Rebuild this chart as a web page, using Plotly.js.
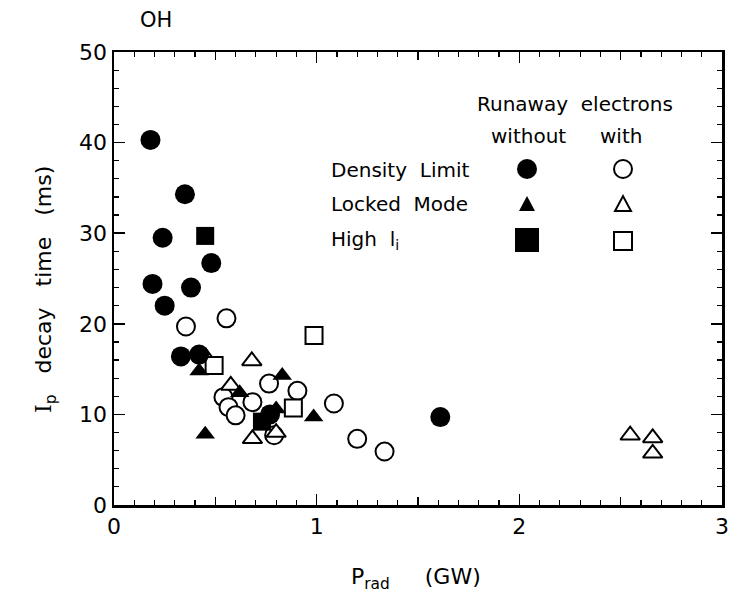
<!DOCTYPE html>
<html>
<head>
<meta charset="utf-8">
<script src="https://cdn.plot.ly/plotly-3.0.1.min.js"></script>
<style>html,body{margin:0;padding:0;background:#fff;}#chart{width:735px;height:610px;}</style>
</head>
<body>
<div id="chart"></div>
<script>
// Density limit, without runaway electrons (filled circles)
const dlWithoutX = [0.18, 0.35, 0.24, 0.48, 0.19, 0.38, 0.25, 0.33, 0.42, 1.61, 0.77];
const dlWithoutY = [40.3, 34.3, 29.5, 26.7, 24.4, 24.0, 22.0, 16.4, 16.6, 9.7, 10.0];
// Locked mode, without (filled triangles)
const lmWithoutX = [0.42, 0.45, 0.62, 0.83, 0.985, 0.80];
const lmWithoutY = [14.8, 7.8, 12.4, 14.3, 9.7, 10.6];
// High li, without (filled squares)
const hlWithoutX = [0.45, 0.73];
const hlWithoutY = [29.7, 9.2];
// Density limit, with runaway electrons (open circles)
const dlWithX = [0.355, 0.555, 0.54, 0.565, 0.60, 0.683, 0.765, 0.905, 1.085, 0.79, 1.20, 1.335];
const dlWithY = [19.7, 20.6, 11.9, 10.8, 9.9, 11.35, 13.4, 12.6, 11.2, 7.7, 7.3, 5.9];
// Locked mode, with (open triangles)
const lmWithX = [0.453, 0.68, 0.576, 0.683, 0.80, 2.547, 2.658, 2.658];
const lmWithY = [16.3, 15.9, 13.2, 7.3, 8.0, 7.7, 7.4, 5.7];
// High li, with (open squares)
const hlWithX = [0.494, 0.987, 0.885];
const hlWithY = [15.4, 18.7, 10.7];

const xTicks = [0, 1, 2, 3];
const yTicks = [0, 10, 20, 30, 40, 50];

const FONT = 'DejaVu Sans, sans-serif';

function filled(x, y, sym, size) {
  return {x: x, y: y, type: 'scatter', mode: 'markers', showlegend: false, hoverinfo: 'skip',
    marker: {symbol: sym, size: size, color: '#000', line: {width: 0}}};
}
function open(x, y, sym, size) {
  return {x: x, y: y, type: 'scatter', mode: 'markers', showlegend: false, hoverinfo: 'skip',
    marker: {symbol: sym, size: size, color: '#fff', line: {width: 2, color: '#000'}}};
}

const traces = [
  open(dlWithX, dlWithY, 'circle', 18),
  open(lmWithX, lmWithY, 'triangle-up', 17),
  open(hlWithX, hlWithY, 'square', 17),
  filled(dlWithoutX, dlWithoutY, 'circle', 20),
  filled(lmWithoutX, lmWithoutY, 'triangle-up', 17),
  filled(hlWithoutX, hlWithoutY, 'square', 18),
  // invisible trace on overlay axes to show the 0.5-step medium ticks
  {x: [0], y: [0], xaxis: 'x2', yaxis: 'y2', type: 'scatter', mode: 'markers',
   marker: {opacity: 0}, showlegend: false, hoverinfo: 'skip'}
];

const PL = 114, PR = 722, PT = 52, PB = 505;
function px(v) { return (v - PL) / (PR - PL); }
function py(v) { return (PB - v) / (PB - PT); }

const legendShapes = [];
function circ(cx, cy, r, fill) {
  legendShapes.push({type: 'circle', xref: 'paper', yref: 'paper', xsizemode: 'pixel', ysizemode: 'pixel',
    xanchor: px(cx), yanchor: py(cy), x0: -r, x1: r, y0: -r, y1: r,
    fillcolor: fill ? '#000' : '#fff', line: {color: '#000', width: fill ? 0 : 2}});
}
function sq(cx, cy, h, fill) {
  legendShapes.push({type: 'rect', xref: 'paper', yref: 'paper', xsizemode: 'pixel', ysizemode: 'pixel',
    xanchor: px(cx), yanchor: py(cy), x0: -h, x1: h, y0: -h, y1: h,
    fillcolor: fill ? '#000' : '#fff', line: {color: '#000', width: fill ? 0 : 2}});
}
function tri(cx, cy, fill) {
  legendShapes.push({type: 'path', xref: 'paper', yref: 'paper', xsizemode: 'pixel', ysizemode: 'pixel',
    xanchor: px(cx), yanchor: py(cy), path: 'M-8,-7 L8,-7 L0,8 Z',
    fillcolor: fill ? '#000' : '#fff', line: {color: '#000', width: fill ? 0 : 2}});
}
circ(527, 169, 10, true);
circ(623, 169, 9, false);
tri(527, 204, true);
tri(623, 204, false);
sq(527, 240, 12, true);
sq(623, 241, 9, false);

function ann(text, x, y, anchor, size) {
  return {text: text, xref: 'paper', yref: 'paper', x: px(x), y: py(y), xanchor: anchor, yanchor: 'middle',
    showarrow: false, font: {family: FONT, size: size || 20, color: '#000'}};
}

const annotations = [
  ann('OH', 138, 20, 'left', 21),
  ann('Runaway\u00A0\u00A0electrons', 575, 104, 'center'),
  ann('without', 528, 136, 'center'),
  ann('with', 621, 136, 'center'),
  ann('Density\u00A0\u00A0Limit', 329, 170, 'left'),
  ann('Locked\u00A0\u00A0Mode', 329, 204, 'left'),
  ann('High\u00A0\u00A0l<sub>i</sub>', 329, 240, 'left'),
  ann('P<sub>rad</sub>\u00A0\u00A0\u00A0\u00A0\u00A0(GW)', 416, 578, 'center', 22),
  {text: '<span style="font-family:DejaVu Serif">I</span><sub>p</sub>\u00A0\u00A0\u00A0decay\u00A0\u00A0\u00A0time\u00A0\u00A0\u00A0(ms)',
   xref: 'paper', yref: 'paper', x: px(45), y: py(290), xanchor: 'center', yanchor: 'middle', textangle: -90,
   showarrow: false, font: {family: FONT, size: 22, color: '#000'}}
];

const layout = {
  width: 735, height: 610,
  margin: {l: PL, r: 735 - PR, t: PT, b: 610 - PB, pad: 0},
  paper_bgcolor: '#fff', plot_bgcolor: '#fff',
  font: {family: FONT, size: 22, color: '#000'},
  showlegend: false,
  xaxis: {range: [0, 3], tickvals: xTicks, ticktext: xTicks.map(String), ticks: 'inside', ticklen: 11, tickwidth: 1.5,
    tickcolor: '#000', showline: true, linecolor: '#000', linewidth: 2.5, mirror: 'ticks', showgrid: false, zeroline: false,
    minor: {dtick: 0.1, ticks: 'inside', ticklen: 5, tickwidth: 1.2, tickcolor: '#000', showgrid: false},
    tickfont: {family: FONT, size: 22}, fixedrange: true},
  yaxis: {range: [0, 50], tickvals: yTicks, ticktext: yTicks.map(String), ticks: 'inside', ticklen: 11, tickwidth: 1.5,
    tickcolor: '#000', showline: true, linecolor: '#000', linewidth: 2.5, mirror: 'ticks', showgrid: false, zeroline: false,
    minor: {dtick: 2, ticks: 'inside', ticklen: 5, tickwidth: 1.2, tickcolor: '#000', showgrid: false},
    tickfont: {family: FONT, size: 22}, fixedrange: true},
  xaxis2: {overlaying: 'x', range: [0, 3], dtick: 0.5, tick0: 0, ticks: 'inside', ticklen: 8, tickwidth: 1.2, tickcolor: '#000',
    showticklabels: false, showgrid: false, zeroline: false, showline: false, mirror: 'ticks', anchor: 'y2', side: 'bottom'},
  yaxis2: {overlaying: 'y', range: [0, 50], showticklabels: false, showgrid: false, zeroline: false, showline: false, ticks: ''},
  shapes: legendShapes,
  annotations: annotations
};

Plotly.newPlot('chart', traces, layout, {staticPlot: true, displayModeBar: false});
</script>
</body>
</html>
